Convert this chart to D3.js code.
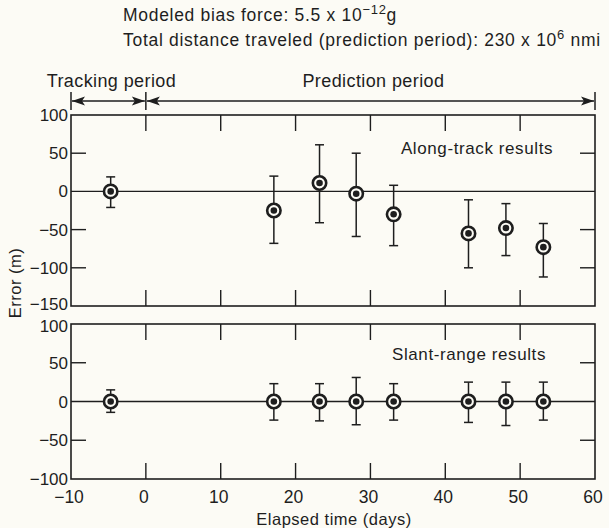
<!DOCTYPE html>
<html>
<head>
<meta charset="utf-8">
<script src="https://cdn.jsdelivr.net/npm/d3@7/dist/d3.min.js"></script>
<style>
  body { margin: 0; background: #fcfbf5; }
  svg { display: block; font-family: "Liberation Sans", Arial, sans-serif; fill: #1e1e1e; }
</style>
</head>
<body>
<div id="chart"></div>
<script>
'use strict';

// Elapsed time of each fix (days)
const days = [-4.7, 17.1, 23.2, 28.1, 33.1, 43.1, 48.1, 53.1];

// Along-track error (m) with upper / lower error bar limits
const alongTrack = [0, -25, 11, -3, -30, -55, -48, -73];
const alongTrackHigh = [19, 20, 61, 50, 8, -11, -16, -42];
const alongTrackLow = [-21, -68, -41, -59, -71, -100, -84, -112];

// Slant-range error (m) with upper / lower error bar limits
const slantRange = [0, 0, 0, 0, 0, 0, 0, 0];
const slantRangeHigh = [15, 23, 23, 31, 23, 25, 25, 25];
const slantRangeLow = [-14, -24, -25, -30, -24, -27, -31, -24];

// Axis ticks
const xTicks = [-10, 0, 10, 20, 30, 40, 50, 60];
const upperYTicks = [100, 50, 0, -50, -100, -150];
const lowerYTicks = [100, 50, 0, -50, -100];

const width = 609;
const height = 528;
const ink = '#1e1e1e';
const paper = '#fcfbf5';
const minus = s => String(s).replace('-', '\u2212');

const svg = d3.select('#chart').append('svg')
  .attr('width', width)
  .attr('height', height);

svg.append('rect').attr('width', width).attr('height', height).attr('fill', paper);

const x = d3.scaleLinear().domain([-10, 60]).range([71, 595]);

// header notes
const note = svg.append('g').attr('font-size', 17.5).attr('letter-spacing', 0.7);
const l1 = note.append('text').attr('x', 123).attr('y', 21);
l1.append('tspan').text('Modeled bias force: 5.5 x 10');
l1.append('tspan').attr('dy', -7).attr('font-size', 13).text('\u221212');
l1.append('tspan').attr('dy', 7).text('g');
const l2 = note.append('text').attr('x', 123).attr('y', 46);
l2.append('tspan').text('Total distance traveled (prediction period): 230 x 10');
l2.append('tspan').attr('dy', -7).attr('font-size', 13).text('6');
l2.append('tspan').attr('dy', 7).text(' nmi');

// period arrows
const arrowY = 101;
const periods = [
  { label: 'Tracking period', from: -10, to: 0 },
  { label: 'Prediction period', from: 0, to: 60 }
];
const ar = svg.append('g');
periods.forEach(p => {
  const a = x(p.from) + 1, b = x(p.to) - 1;
  ar.append('line').attr('x1', a).attr('x2', b).attr('y1', arrowY).attr('y2', arrowY)
    .attr('stroke', ink).attr('stroke-width', 1.3);
  ar.append('path').attr('d', `M${a},${arrowY}l13,-4.5l-3,4.5l3,4.5z`).attr('fill', ink);
  ar.append('path').attr('d', `M${b},${arrowY}l-13,-4.5l3,4.5l-3,4.5z`).attr('fill', ink);
  ar.append('text').attr('x', (x(p.from) + x(p.to)) / 2 + 3).attr('y', 87)
    .attr('text-anchor', 'middle').attr('font-size', 18).attr('letter-spacing', 0.4)
    .text(p.label);
});
[-10, 0, 60].forEach(d => {
  ar.append('line').attr('x1', x(d)).attr('x2', x(d)).attr('y1', 92).attr('y2', 110)
    .attr('stroke', ink).attr('stroke-width', 1.5);
});

// draw one panel
const drawPanel = (cfg) => {
  const y = d3.scaleLinear().domain(cfg.domain).range(cfg.range);
  const g = svg.append('g');
  const [x0, x1] = x.range();
  const [yb, yt] = cfg.range;
  const tickLen = 15;

  g.append('rect')
    .attr('x', x0).attr('y', yt).attr('width', x1 - x0).attr('height', yb - yt)
    .attr('fill', 'none').attr('stroke', ink).attr('stroke-width', 1.6);

  // zero line
  g.append('line').attr('x1', x0).attr('x2', x1).attr('y1', y(0)).attr('y2', y(0))
    .attr('stroke', ink).attr('stroke-width', 1.4);

  // inner ticks on x
  xTicks.filter(d => d > -10 && d < 60).forEach(d => {
    g.append('line').attr('x1', x(d)).attr('x2', x(d)).attr('y1', yt).attr('y2', yt + tickLen + 1)
      .attr('stroke', ink).attr('stroke-width', 1.4);
    g.append('line').attr('x1', x(d)).attr('x2', x(d)).attr('y1', yb).attr('y2', yb - tickLen - 1)
      .attr('stroke', ink).attr('stroke-width', 1.4);
  });

  // inner ticks on y, both sides
  cfg.yTicks.filter(d => d !== 0 && d > cfg.domain[0] && d < cfg.domain[1]).forEach(d => {
    g.append('line').attr('x1', x0).attr('x2', x0 + tickLen).attr('y1', y(d)).attr('y2', y(d))
      .attr('stroke', ink).attr('stroke-width', 1.4);
    g.append('line').attr('x1', x1).attr('x2', x1 - tickLen).attr('y1', y(d)).attr('y2', y(d))
      .attr('stroke', ink).attr('stroke-width', 1.4);
  });

  // y labels (edge labels nudged so neighbouring panels don't collide)
  g.selectAll('text.ylab')
    .data(cfg.yTicks)
    .enter()
    .append('text')
    .attr('x', x0 - 3)
    .attr('y', d => y(d) + 6 + (d === cfg.domain[0] ? cfg.bottomNudge : 0) + (d === cfg.domain[1] ? cfg.topNudge : 0))
    .attr('text-anchor', 'end')
    .attr('font-size', 17)
    .text(minus);

  g.append('text').attr('x', cfg.labelX).attr('y', cfg.labelY)
    .attr('text-anchor', 'middle').attr('font-size', 17).attr('letter-spacing', 0.6)
    .text(cfg.label);

  // error bars
  const bars = g.selectAll('g.bar')
    .data(days.map((d, i) => ({ d, v: cfg.values[i], hi: cfg.high[i], lo: cfg.low[i] })))
    .enter()
    .append('g');

  bars.append('line')
    .attr('x1', p => x(p.d)).attr('x2', p => x(p.d))
    .attr('y1', p => y(p.hi)).attr('y2', p => y(p.lo))
    .attr('stroke', ink).attr('stroke-width', 1.5);
  ['hi', 'lo'].forEach(k => {
    bars.append('line')
      .attr('x1', p => x(p.d) - 4.5).attr('x2', p => x(p.d) + 4.5)
      .attr('y1', p => y(p[k])).attr('y2', p => y(p[k]))
      .attr('stroke', ink).attr('stroke-width', 1.5);
  });

  // bullseye markers
  bars.append('circle')
    .attr('cx', p => x(p.d)).attr('cy', p => y(p.v)).attr('r', 6.7)
    .attr('fill', paper).attr('stroke', ink).attr('stroke-width', 2.6);
  bars.append('circle')
    .attr('cx', p => x(p.d)).attr('cy', p => y(p.v)).attr('r', 3.3)
    .attr('fill', ink);
};

drawPanel({
  domain: [-150, 100], range: [306, 115], yTicks: upperYTicks,
  values: alongTrack, high: alongTrackHigh, low: alongTrackLow,
  label: 'Along-track results', labelX: 477, labelY: 154,
  topNudge: 0, bottomNudge: -2
});

drawPanel({
  domain: [-100, 100], range: [479, 324], yTicks: lowerYTicks,
  values: slantRange, high: slantRangeHigh, low: slantRangeLow,
  label: 'Slant-range results', labelX: 469, labelY: 360,
  topNudge: 2, bottomNudge: 0
});

// x tick labels
svg.append('g').selectAll('text')
  .data(xTicks)
  .enter()
  .append('text')
  .attr('x', d => x(d) - 2)
  .attr('y', 503)
  .attr('text-anchor', 'middle')
  .attr('font-size', 17.5)
  .text(minus);

// axis titles
svg.append('text').attr('x', 334).attr('y', 525)
  .attr('text-anchor', 'middle').attr('font-size', 16.5).attr('letter-spacing', 0.5)
  .text('Elapsed time (days)');

svg.append('text')
  .attr('transform', 'translate(21,283) rotate(-90)')
  .attr('text-anchor', 'middle').attr('font-size', 16.5).attr('letter-spacing', 0.5)
  .text('Error (m)');
</script>
</body>
</html>
